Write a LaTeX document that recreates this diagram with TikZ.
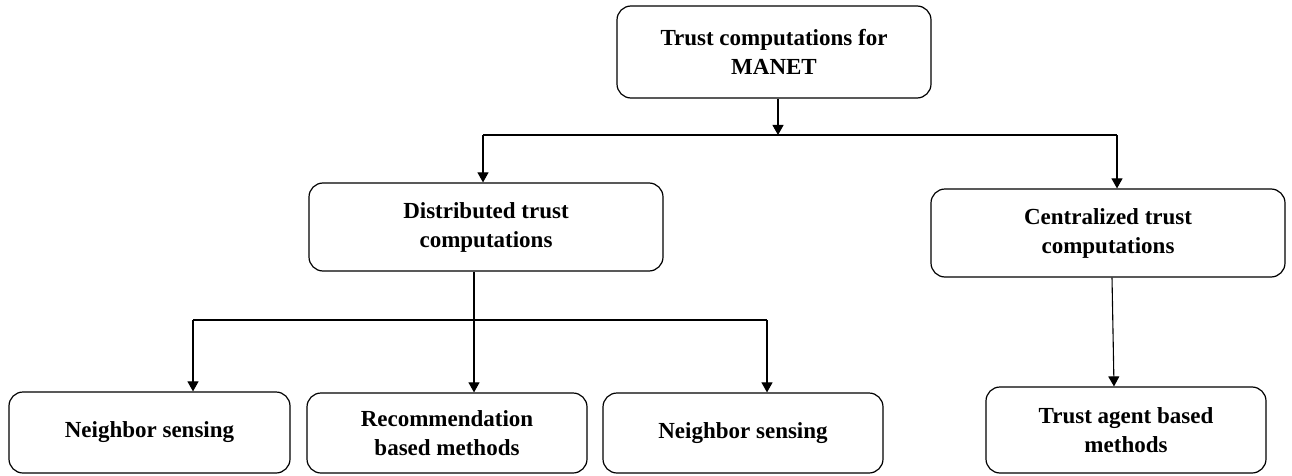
\documentclass[tikz,border=0pt]{standalone}
\usepackage{fontspec}
\setmainfont{Liberation Serif}
\usetikzlibrary{arrows.meta}
\begin{document}
\begin{tikzpicture}[x=1pt,y=-1pt,
  box/.style={draw, line width=1.2pt, rounded corners=14pt, inner sep=0pt,
    align=center, font=\bfseries\fontsize{23}{29}\selectfont},
  link/.style={line width=1.1pt},
  arr/.style={link, -{Triangle[width=11pt,length=10pt]}}]
\useasboundingbox (0,0) rectangle (1292,476);

% boxes
\node[box, minimum width=314pt, minimum height=92pt] (top) at (774,52)
  {Trust computations for\\MANET};
\node[box, minimum width=354pt, minimum height=88pt] (dist) at (486,227)
  {Distributed trust\\computations};
\node[box, minimum width=354pt, minimum height=88pt] (cent) at (1108,233)
  {Centralized trust\\computations};
\node[box, minimum width=281pt, minimum height=81pt] (ns1) at (149.5,432.5)
  {Neighbor sensing};
\node[box, minimum width=280pt, minimum height=80pt] (rec) at (447,433)
  {Recommendation\\based methods};
\node[box, minimum width=280pt, minimum height=80pt] (ns2) at (743,433)
  {Neighbor sensing};
\node[box, minimum width=280pt, minimum height=86pt] (agent) at (1126,430)
  {Trust agent based\\methods};

% first level branching
\coordinate (aL) at (483,135);
\coordinate (aM) at (778,135);
\coordinate (aR) at (1117,135);
\draw[arr] (top.south -| aM) -- (aM);
\draw[link] (aL) -- (aR);
\draw[arr] (aL) -- (aL |- dist.north);
\draw[arr] (aR) -- (aR |- cent.north);

% second level branching
\coordinate (bL) at (193,320);
\coordinate (bM) at (474,320);
\coordinate (bR) at (767,320);
\draw[link] (dist.south -| bM) -- (bM);
\draw[link] (bL) -- (bR);
\draw[arr] (bL) -- (bL |- ns1.north);
\draw[arr] (bM) -- (bM |- rec.north);
\draw[arr] (bR) -- (bR |- ns2.north);

% centralized branch
\coordinate (c1) at (1112,0);
\coordinate (c2) at (1114,0);
\draw[arr] (cent.south -| c1) -- (agent.north -| c2);
\end{tikzpicture}
\end{document}
